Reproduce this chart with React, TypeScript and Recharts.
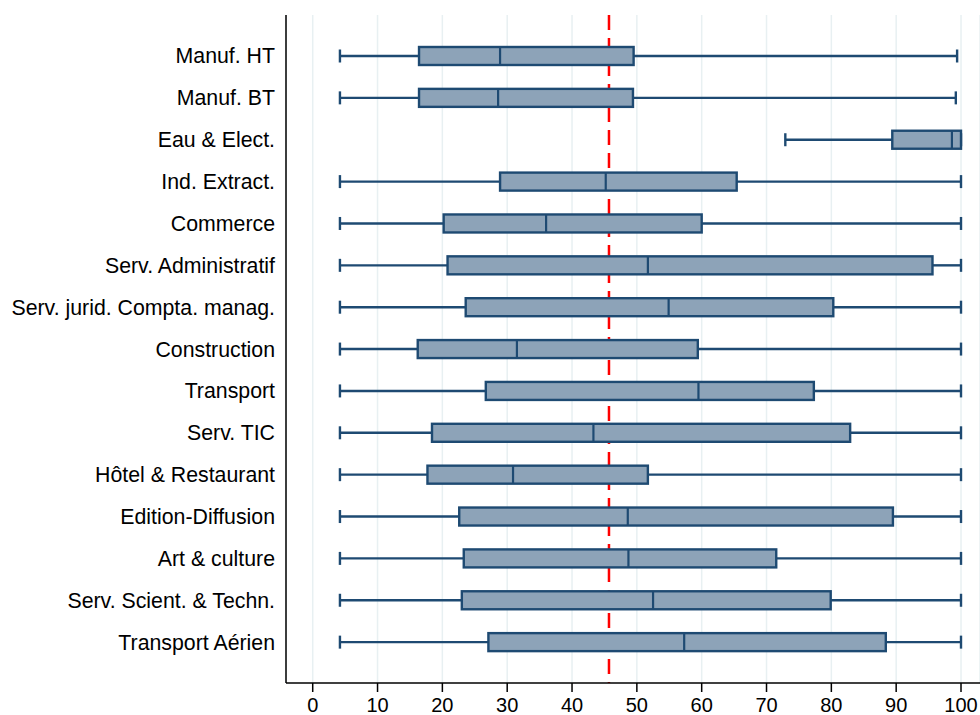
import React from "react";
import {
  Bar,
  CartesianGrid,
  ComposedChart,
  ReferenceLine,
  XAxis,
  YAxis,
} from "recharts";

const categories = [
  "Manuf. HT",
  "Manuf. BT",
  "Eau & Elect.",
  "Ind. Extract.",
  "Commerce",
  "Serv. Administratif",
  "Serv. jurid. Compta. manag.",
  "Construction",
  "Transport",
  "Serv. TIC",
  "Hôtel & Restaurant",
  "Edition-Diffusion",
  "Art & culture",
  "Serv. Scient. & Techn.",
  "Transport Aérien",
];

const mins = [4.2, 4.2, 72.9, 4.2, 4.2, 4.2, 4.2, 4.2, 4.2, 4.2, 4.2, 4.2, 4.2, 4.2, 4.2];
const q1s = [16.4, 16.4, 89.4, 28.9, 20.2, 20.8, 23.6, 16.2, 26.7, 18.4, 17.7, 22.6, 23.3, 23.0, 27.1];
const medians = [28.9, 28.6, 98.6, 45.2, 36.0, 51.7, 54.9, 31.5, 59.5, 43.3, 30.9, 48.6, 48.7, 52.5, 57.3];
const q3s = [49.5, 49.4, 100, 65.4, 60.0, 95.6, 80.3, 59.4, 77.3, 82.9, 51.7, 89.5, 71.5, 79.9, 88.4];
const maxs = [99.4, 99.2, 100, 100, 100, 100, 100, 100, 100, 100, 100, 100, 100, 100, 100];

const xTicks = [0, 10, 20, 30, 40, 50, 60, 70, 80, 90, 100];
const meanLine = 45.7;

const data = categories.map((name, i) => ({
  name,
  min: mins[i],
  q1: q1s[i],
  median: medians[i],
  q3: q3s[i],
  max: maxs[i],
}));

const NAVY = "#1e4a72";
const FILL = "#8da3b8";
const FONT = "'Liberation Sans', Arial, sans-serif";

const BoxShape = (props: any) => {
  const { x, y, width, height, payload } = props;
  const span = payload.max - payload.min;
  const px = (v: number) => (span === 0 ? x : x + ((v - payload.min) / span) * width);
  const cy = y + height / 2;
  const cap = 6.5;
  return (
    <g>
      <line x1={px(payload.min)} x2={px(payload.q1)} y1={cy} y2={cy} stroke={NAVY} strokeWidth={2.4} />
      <line x1={px(payload.q3)} x2={px(payload.max)} y1={cy} y2={cy} stroke={NAVY} strokeWidth={2.4} />
      <line x1={px(payload.min)} x2={px(payload.min)} y1={cy - cap} y2={cy + cap} stroke={NAVY} strokeWidth={2.4} />
      <line x1={px(payload.max)} x2={px(payload.max)} y1={cy - cap} y2={cy + cap} stroke={NAVY} strokeWidth={2.4} />
      <rect
        x={px(payload.q1)}
        y={y}
        width={px(payload.q3) - px(payload.q1)}
        height={height}
        fill={FILL}
        stroke={NAVY}
        strokeWidth={2.4}
      />
      <line x1={px(payload.median)} x2={px(payload.median)} y1={y} y2={y + height} stroke={NAVY} strokeWidth={2.2} />
    </g>
  );
};

export default function App() {
  return (
    <div style={{ position: "absolute", left: 0, top: 0, background: "#fff" }}>
      <ComposedChart
        width={980}
        height={715}
        layout="vertical"
        data={data}
        margin={{ top: 15, right: 0, bottom: 0, left: 0 }}
      >
        <CartesianGrid horizontal={false} stroke="#e8f0f2" strokeWidth={1.5} />
        <XAxis
          type="number"
          domain={[-4.12, 102.93]}
          ticks={xTicks}
          allowDataOverflow
          height={32}
          tickSize={9}
          tickMargin={6}
          stroke="#000"
          strokeWidth={1.5}
          tick={{ fill: "#000", fontSize: 20, fontFamily: FONT }}
        />
        <YAxis
          type="category"
          dataKey="name"
          width={286}
          interval={0}
          tickLine={false}
          tickSize={6}
          tickMargin={5}
          padding={{ top: 20, bottom: 20 }}
          stroke="#000"
          strokeWidth={1.5}
          tick={{ fill: "#000", fontSize: 21.3, fontFamily: FONT }}
        />
        <ReferenceLine
          x={meanLine}
          stroke="#ff0000"
          strokeWidth={2.5}
          strokeDasharray="15 8"
          strokeDashoffset={14}
          zIndex={100}
        />
        <Bar
          dataKey={(d: any) => [d.min, d.max]}
          barSize={18}
          shape={BoxShape}
          isAnimationActive={false}
        />
      </ComposedChart>
    </div>
  );
}
